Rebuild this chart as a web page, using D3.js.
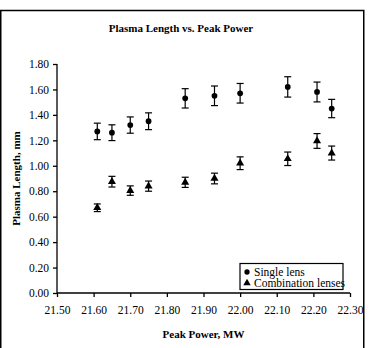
<!DOCTYPE html>
<html>
<head>
<meta charset="utf-8">
<script src="https://cdn.jsdelivr.net/npm/d3@7"></script>
<style>
  body { margin: 0; background: #fff; }
  svg text { font-family: "Liberation Serif", serif !important; fill: #000; }
</style>
</head>
<body>
<svg width="369" height="348"></svg>
<script>
const power       = [21.61, 21.65, 21.70, 21.75, 21.85, 21.93, 22.00, 22.13, 22.21, 22.25];
const singleLens  = [1.27, 1.26, 1.32, 1.35, 1.53, 1.55, 1.57, 1.62, 1.58, 1.45];
const singleErr   = [0.065, 0.062, 0.064, 0.066, 0.076, 0.077, 0.077, 0.08, 0.078, 0.072];
const comboLenses = [0.67, 0.875, 0.805, 0.84, 0.87, 0.90, 1.02, 1.055, 1.195, 1.10];
const comboErr    = [0.03, 0.042, 0.037, 0.04, 0.04, 0.042, 0.05, 0.053, 0.058, 0.055];
const xTicks = [21.5, 21.6, 21.7, 21.8, 21.9, 22.0, 22.1, 22.2, 22.3];
const yTicks = [0, 0.2, 0.4, 0.6, 0.8, 1.0, 1.2, 1.4, 1.6, 1.8];
const seriesNames = ['Single lens', 'Combination lenses'];

const svg = d3.select('svg');

// outer chart frame
svg.append('rect')
  .attr('x', 0.75).attr('y', 10.5)
  .attr('width', 363).attr('height', 350)
  .attr('fill', 'none').attr('stroke', '#000').attr('stroke-width', 1.5);

const xScale = d3.scaleLinear().domain([21.5, 22.3]).range([57, 350]);
const yScale = d3.scaleLinear().domain([0, 1.8]).range([293, 64]);

svg.append('text')
  .attr('x', 181).attr('y', 32)
  .attr('text-anchor', 'middle')
  .attr('font-weight', 'bold').attr('font-size', 11)
  .text('Plasma Length vs. Peak Power');

const yAxis = d3.axisLeft(yScale).tickValues(yTicks).tickFormat(d3.format('.2f')).tickSize(4).tickPadding(4);
const yG = svg.append('g').attr('transform', `translate(${xScale(21.5)},0)`).call(yAxis);

const xAxis = d3.axisBottom(xScale).tickValues(xTicks).tickFormat(d3.format('.2f')).tickSize(4).tickPadding(9);
const xG = svg.append('g').attr('transform', `translate(0,${yScale(0)})`).call(xAxis);

[xG, yG].forEach(g => {
  g.attr('font-family', null).attr('font-size', null);
  g.selectAll('.domain, .tick line').attr('stroke', '#000').attr('stroke-width', 1.3);
  g.selectAll('text').style('font-size', '11.5px').attr('fill', '#000');
});
yG.select('.domain').attr('d', `M0,${yScale(1.8)}V${yScale(0)}`);
xG.select('.domain').attr('d', `M${xScale(21.5)},0H${xScale(22.3)}`);

svg.append('text')
  .attr('transform', `translate(20,${yScale(0.9)}) rotate(-90)`)
  .attr('text-anchor', 'middle')
  .attr('font-weight', 'bold').attr('font-size', 11)
  .text('Plasma Length, mm');

svg.append('text')
  .attr('x', (xScale(21.5) + xScale(22.3)) / 2).attr('y', 338)
  .attr('text-anchor', 'middle')
  .attr('font-weight', 'bold').attr('font-size', 11)
  .text('Peak Power, MW');

const makeData = (vals, errs) => power.map((p, i) => ({ x: p, y: vals[i], e: errs[i] }));
const series = [
  { name: seriesNames[0], data: makeData(singleLens, singleErr), symbol: d3.symbolCircle, size: 26 },
  { name: seriesNames[1], data: makeData(comboLenses, comboErr), symbol: d3.symbolTriangle, size: 28 }
];

series.forEach(s => {
  const g = svg.append('g');
  const bars = g.selectAll('g.err').data(s.data).enter().append('g').attr('class', 'err')
    .attr('stroke', '#000').attr('stroke-width', 1.2);
  bars.append('line')
    .attr('x1', d => xScale(d.x)).attr('x2', d => xScale(d.x))
    .attr('y1', d => yScale(d.y + d.e)).attr('y2', d => yScale(d.y - d.e));
  bars.append('line')
    .attr('x1', d => xScale(d.x) - 3.5).attr('x2', d => xScale(d.x) + 3.5)
    .attr('y1', d => yScale(d.y + d.e)).attr('y2', d => yScale(d.y + d.e));
  bars.append('line')
    .attr('x1', d => xScale(d.x) - 3.5).attr('x2', d => xScale(d.x) + 3.5)
    .attr('y1', d => yScale(d.y - d.e)).attr('y2', d => yScale(d.y - d.e));
  g.selectAll('path.mark').data(s.data).enter().append('path').attr('class', 'mark')
    .attr('d', d3.symbol().type(s.symbol).size(s.size))
    .attr('transform', d => `translate(${xScale(d.x)},${yScale(d.y)})`)
    .attr('fill', '#000');
});

// legend
const legend = svg.append('g').attr('transform', 'translate(240,263.5)');
legend.append('rect')
  .attr('width', 103).attr('height', 26)
  .attr('fill', '#fff').attr('stroke', '#000').attr('stroke-width', 1.2);
series.forEach((s, i) => {
  legend.append('path')
    .attr('d', d3.symbol().type(s.symbol).size(s.size - 4))
    .attr('transform', `translate(7,${8.5 + i * 11})`)
    .attr('fill', '#000');
  legend.append('text')
    .attr('x', 14).attr('y', 12 + i * 11)
    .style('font-size', '11.5px')
    .text(s.name);
});
</script>
</body>
</html>
